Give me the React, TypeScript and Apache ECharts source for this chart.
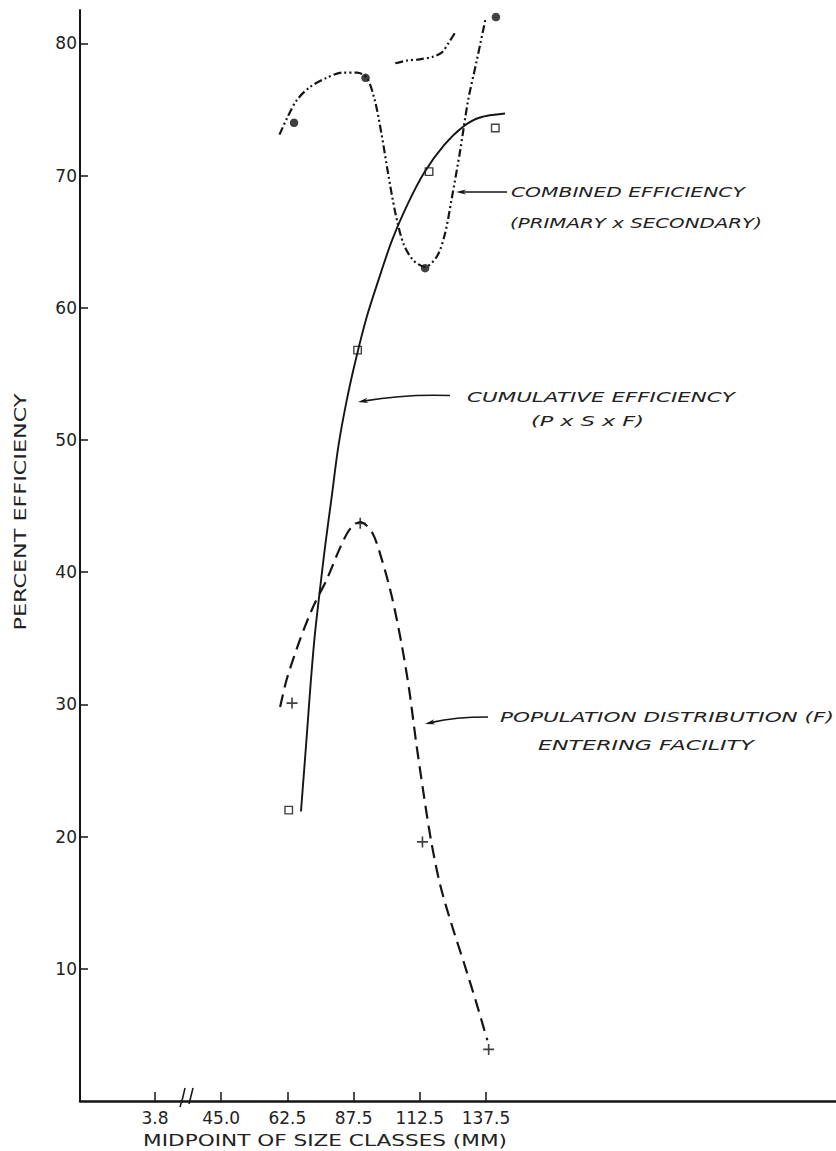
import React, { useEffect, useRef } from 'react';
import * as echarts from 'echarts';

// ---- axis ticks / labels ----
const xCategoryLabels = ['3.8', '45.0', '62.5', '87.5', '112.5', '137.5'];
const xCategoryPositions = [0, 1, 2, 3, 4, 5];
const yTickValues = [10, 20, 30, 40, 50, 60, 70, 80];

// ---- plotted points (x = position on the size-class axis, y = percent) ----
const combinedX = [2.10, 3.18, 4.08, 5.15];
const combinedY = [74.0, 77.4, 63.0, 82.0];
const cumulativeX = [2.02, 3.06, 4.14, 5.14];
const cumulativeY = [22.0, 56.8, 70.3, 73.6];
const populationX = [2.07, 3.10, 4.04, 5.04];
const populationY = [30.1, 43.7, 19.6, 3.9];

// ---- hand-fitted curves ----
const combinedCurveX = [1.88, 1.99, 2.14, 2.34, 2.59, 2.84, 3.05, 3.20, 3.32, 3.42, 3.52, 3.63, 3.75, 3.90, 4.08, 4.26, 4.38, 4.48, 4.61, 4.73, 4.86, 4.99];
const combinedCurveY = [73.1, 74.3, 75.7, 76.7, 77.4, 77.8, 77.8, 77.4, 75.7, 73.2, 70.2, 67.2, 64.9, 63.6, 63.1, 63.9, 65.6, 68.2, 71.9, 75.7, 78.7, 81.8];
const combinedStrayX = [3.63, 3.80, 4.00, 4.20, 4.33, 4.43, 4.53];
const combinedStrayY = [78.5, 78.7, 78.8, 79.0, 79.3, 80.0, 80.8];
const cumulativeCurveX = [2.205, 2.251, 2.304, 2.356, 2.417, 2.492, 2.568, 2.669, 2.769, 2.896, 3.029, 3.198, 3.369, 3.580, 3.822, 4.063, 4.366, 4.653, 4.909, 5.287];
const cumulativeCurveY = [21.9, 24.9, 28.4, 31.9, 35.4, 38.7, 41.9, 45.7, 49.5, 53.0, 56.0, 59.3, 62.0, 65.1, 67.9, 70.2, 72.3, 73.7, 74.4, 74.7];
const populationCurveX = [1.89, 1.99, 2.19, 2.39, 2.59, 2.80, 2.95, 3.10, 3.28, 3.43, 3.58, 3.72, 3.84, 3.94, 4.05, 4.17, 4.31, 4.49, 4.67, 4.85, 5.02];
const populationCurveY = [29.8, 31.9, 34.9, 37.4, 39.4, 41.9, 43.3, 43.8, 43.0, 40.9, 38.1, 34.7, 31.1, 27.3, 23.5, 19.7, 16.3, 13.2, 10.4, 7.5, 4.6];

const INK = '#151515';
const TEXT = '#222222';
const FONT = '"DejaVu Sans", "Noto Sans", sans-serif';

const zip = (xs: number[], ys: number[]) => xs.map((x, i) => [x, ys[i]]);

function measure(text: string, font: string): number {
  const ctx = document.createElement('canvas').getContext('2d')!;
  ctx.font = font;
  return ctx.measureText(text).width || 1;
}

function stretchedText(text: string, x: number, y: number, width: number, size: number, italic: boolean, align: 'left' | 'center' = 'left', rotation = 0) {
  const font = `${italic ? 'italic ' : ''}${size}px ${FONT}`;
  const w = measure(text, font);
  return {
    type: 'text',
    x,
    y,
    rotation,
    scaleX: width / w,
    silent: true,
    style: {
      text,
      fill: TEXT,
      font,
      align,
      textAlign: align,
      verticalAlign: 'middle',
      textVerticalAlign: 'middle',
    },
  };
}

function arrow(start: number[], cp: number[], tip: number[]) {
  const dx = tip[0] - cp[0];
  const dy = tip[1] - cp[1];
  const len = Math.hypot(dx, dy) || 1;
  const ux = dx / len;
  const uy = dy / len;
  const px = -uy;
  const py = ux;
  const L = 10;
  const W = 2.6;
  const base = [tip[0] - ux * L, tip[1] - uy * L];
  const notch = [tip[0] - ux * 7, tip[1] - uy * 7];
  return [
    {
      type: 'bezierCurve',
      silent: true,
      shape: { x1: start[0], y1: start[1], cpx1: cp[0], cpy1: cp[1], x2: notch[0], y2: notch[1] },
      style: { stroke: INK, lineWidth: 1.7, fill: null },
    },
    {
      type: 'polygon',
      silent: true,
      shape: {
        points: [tip, [base[0] + px * W, base[1] + py * W], notch, [base[0] - px * W, base[1] - py * W]],
      },
      style: { fill: INK },
    },
  ];
}

export default function App() {
  const ref = useRef<HTMLDivElement>(null);

  useEffect(() => {
    const chart = echarts.init(ref.current!, null, { renderer: 'svg' });

    const graphic: any[] = [
      stretchedText('COMBINED EFFICIENCY', 511, 192, 234, 14, true),
      stretchedText('(PRIMARY x SECONDARY)', 510, 223, 252, 14, true),
      stretchedText('CUMULATIVE EFFICIENCY', 467, 397, 268, 14, true),
      stretchedText('(P x S x F)', 531, 421, 113, 14, true),
      stretchedText('POPULATION DISTRIBUTION (F)', 500, 717, 334, 14, true),
      stretchedText('ENTERING FACILITY', 538, 745, 216, 14, true),
      stretchedText('MIDPOINT OF SIZE CLASSES (MM)', 325, 1140, 364, 16, false, 'center'),
      stretchedText('PERCENT EFFICIENCY', 21, 512, 237, 16, false, 'center', Math.PI / 2),
      ...arrow([507, 192], [485, 192], [456, 192]),
      ...arrow([450, 395.5], [405, 394], [358, 402]),
      ...arrow([488, 717], [455, 717], [425, 724]),
      {
        type: 'bezierCurve',
        silent: true,
        shape: { x1: 180, y1: 1107, cpx1: 183, cpy1: 1098, x2: 185, y2: 1088 },
        style: { stroke: INK, lineWidth: 1.5, fill: null },
      },
      {
        type: 'bezierCurve',
        silent: true,
        shape: { x1: 189, y1: 1104, cpx1: 191, cpy1: 1096, x2: 193, y2: 1088 },
        style: { stroke: INK, lineWidth: 1.5, fill: null },
      },
    ];

    const lineCommon = { smooth: 0.3, showSymbol: false, silent: true };

    const option: any = {
      animation: false,
      backgroundColor: '#ffffff',
      grid: { left: 80, right: 0, top: 10, bottom: 50, containLabel: false },
      xAxis: {
        type: 'value',
        min: -1.133,
        max: 10.287,
        axisLine: { show: true, onZero: false, lineStyle: { color: INK, width: 2.5 } },
        axisTick: { show: true, inside: true, length: 9, customValues: xCategoryPositions, lineStyle: { color: INK, width: 1.5 } },
        axisLabel: {
          show: true,
          customValues: xCategoryPositions,
          formatter: (v: number) => xCategoryLabels[Math.round(v)] ?? '',
          fontSize: 17,
          fontFamily: FONT,
          color: TEXT,
          margin: 8,
        },
        splitLine: { show: false },
      },
      yAxis: {
        type: 'value',
        min: 0,
        max: 82.53,
        axisLine: { show: true, onZero: false, lineStyle: { color: INK, width: 2 } },
        axisTick: { show: true, inside: true, length: 8, customValues: yTickValues, lineStyle: { color: INK, width: 1.5 } },
        axisLabel: {
          show: true,
          customValues: yTickValues,
          fontSize: 17,
          fontFamily: FONT,
          color: TEXT,
          margin: 3,
        },
        splitLine: { show: false },
      },
      series: [
        {
          name: 'Combined efficiency (primary x secondary)',
          type: 'line',
          data: zip(combinedCurveX, combinedCurveY),
          ...lineCommon,
          lineStyle: { color: INK, width: 2.2, type: [8, 3, 2, 3, 2, 3] },
        },
        {
          name: 'Combined efficiency (segment)',
          type: 'line',
          data: zip(combinedStrayX, combinedStrayY),
          ...lineCommon,
          lineStyle: { color: INK, width: 2.2, type: [8, 3, 2, 3, 2, 3] },
        },
        {
          name: 'Cumulative efficiency (P x S x F)',
          type: 'line',
          data: zip(cumulativeCurveX, cumulativeCurveY),
          ...lineCommon,
          lineStyle: { color: INK, width: 1.9, type: 'solid' },
        },
        {
          name: 'Population distribution (F)',
          type: 'line',
          data: zip(populationCurveX, populationCurveY),
          ...lineCommon,
          lineStyle: { color: INK, width: 2.2, type: [13, 7] },
        },
        {
          name: 'Combined points',
          type: 'scatter',
          data: zip(combinedX, combinedY),
          symbol: 'circle',
          symbolSize: 8.5,
          silent: true,
          itemStyle: { color: '#111' },
        },
        {
          name: 'Cumulative points',
          type: 'scatter',
          data: zip(cumulativeX, cumulativeY),
          symbol: 'rect',
          symbolSize: 7.5,
          silent: true,
          itemStyle: { color: '#ffffff', borderColor: '#111', borderWidth: 1.4 },
        },
        {
          name: 'Population points',
          type: 'scatter',
          data: zip(populationX, populationY),
          symbol: 'path://M0,4.25L10,4.25L10,5.75L0,5.75Z M4.25,0L5.75,0L5.75,10L4.25,10Z',
          symbolSize: 11,
          silent: true,
          itemStyle: { color: '#111' },
        },
      ],
      graphic,
    };

    chart.setOption(option);
    return () => chart.dispose();
  }, []);

  return (
    <div
      ref={ref}
      style={{ position: 'absolute', left: 0, top: 0, width: 836, height: 1151, background: '#ffffff' }}
    />
  );
}
